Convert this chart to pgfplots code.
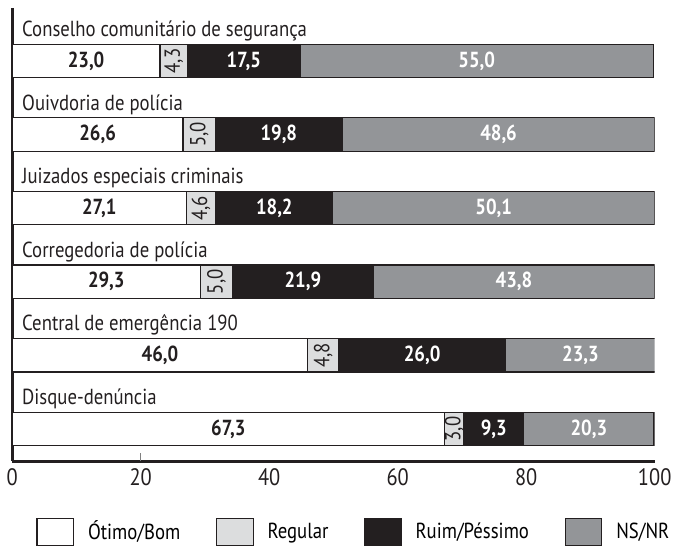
\documentclass[border=0pt]{standalone}
\usepackage{fontspec}
\setmainfont{PT Sans}[FakeStretch=0.86]
\usepackage{pgfplots}
\usepackage{pgfplotstable}
\pgfplotsset{compat=1.18}
\definecolor{lgray}{HTML}{DCDDDE}
\definecolor{mgray}{HTML}{939598}
\definecolor{dblack}{HTML}{231F20}
\tikzset{
  catlab/.style={anchor=west, font=\fontsize{11}{12}\selectfont, text=dblack, inner sep=0pt},
  vlab/.style={font=\bfseries\fontsize{11}{12}\selectfont, inner sep=0pt},
  rlab/.style={font=\fontsize{11}{12}\selectfont, inner sep=0pt, rotate=90, text=dblack},
}

\pgfplotstableread{
pos ot reg rp ns
0 23.0 4.3 17.5 55.0
1 26.6 5.0 19.8 48.6
2 27.1 4.6 18.2 50.1
3 29.3 5.0 21.9 43.8
4 46.0 4.8 26.0 23.3
5 67.3 3.0 9.3 20.3
}\bardata

\begin{document}
\begin{tikzpicture}
\begin{axis}[
  scale only axis,
  width=324.5pt, height=229pt,
  xbar stacked,
  reverse stacked plots=false,
  bar width=0.455,
  y dir=reverse,
  xmin=0, xmax=100,
  ymin=-0.72, ymax=5.44,
  axis lines*=left,
  axis line style={line width=1.5pt, draw=dblack},
  ytick=\empty,
  xtick={0,20,40,60,80,100},
  xticklabels={0,20,40,60,80,100},
  major tick length=0pt,
  extra x ticks={20},
  extra x tick labels={},
  extra x tick style={major tick length=4pt, tick align=inside},
  xticklabel style={font=\fontsize{12}{13}\selectfont, text=dblack},
  legend columns=4,
  legend image code/.code={\draw[#1, draw=dblack, line width=0.6pt] (0pt,-7pt) rectangle (18.5pt,7pt);},
  legend style={at={(0.037,-0.122)}, anchor=north west, draw=none, fill=none, inner sep=0pt,
    font=\fontsize{11}{12}\selectfont,
    /tikz/every odd column/.append style={column sep=5pt},
    /tikz/every even column/.append style={column sep=16pt}},
]
\addplot[fill=white, draw=dblack, line width=0.6pt] table[x=ot, y=pos] {\bardata};
\addlegendentry{Ótimo/Bom}
\addplot[fill=lgray, draw=dblack, line width=0.6pt] table[x=reg, y=pos] {\bardata};
\addlegendentry{Regular}
\addplot[fill=dblack, draw=dblack, line width=0.6pt] table[x=rp, y=pos] {\bardata};
\addlegendentry{Ruim/Péssimo}
\addplot[fill=mgray, draw=dblack, line width=0.6pt] table[x=ns, y=pos] {\bardata};
\addlegendentry{NS/NR}

\node[catlab] at (axis cs:1.5,-0.41) {Conselho comunitário de segurança};
\node[catlab] at (axis cs:1.5,0.59) {Ouivdoria de polícia};
\node[catlab] at (axis cs:1.5,1.59) {Juizados especiais criminais};
\node[catlab] at (axis cs:1.5,2.59) {Corregedoria de polícia};
\node[catlab] at (axis cs:1.5,3.59) {Central de emergência 190};
\node[catlab] at (axis cs:1.5,4.59) {Disque-denúncia};

\node[vlab, text=dblack] at (axis cs:11.5,0) {23,0};
\node[vlab, text=white] at (axis cs:36.05,0) {17,5};
\node[vlab, text=white] at (axis cs:72.3,0) {55,0};
\node[vlab, text=dblack] at (axis cs:13.3,1) {26,6};
\node[vlab, text=white] at (axis cs:41.5,1) {19,8};
\node[vlab, text=white] at (axis cs:75.7,1) {48,6};
\node[vlab, text=dblack] at (axis cs:13.55,2) {27,1};
\node[vlab, text=white] at (axis cs:40.8,2) {18,2};
\node[vlab, text=white] at (axis cs:74.95,2) {50,1};
\node[vlab, text=dblack] at (axis cs:14.65,3) {29,3};
\node[vlab, text=white] at (axis cs:45.25,3) {21,9};
\node[vlab, text=white] at (axis cs:78.1,3) {43,8};
\node[vlab, text=dblack] at (axis cs:23.0,4) {46,0};
\node[vlab, text=white] at (axis cs:63.8,4) {26,0};
\node[vlab, text=white] at (axis cs:88.45,4) {23,3};
\node[vlab, text=dblack] at (axis cs:33.65,5) {67,3};
\node[vlab, text=white] at (axis cs:74.95,5) {9,3};
\node[vlab, text=white] at (axis cs:89.75,5) {20,3};

\node[rlab] at (axis cs:25.15,0) {4,3};
\node[rlab] at (axis cs:29.1,1) {5,0};
\node[rlab] at (axis cs:29.4,2) {4,6};
\node[rlab] at (axis cs:31.8,3) {5,0};
\node[rlab] at (axis cs:48.4,4) {4,8};
\node[rlab] at (axis cs:68.8,5) {3,0};
\end{axis}
\path ([xshift=-6pt,yshift=4pt]current axis.north west);
\path ([xshift=8.5pt]current axis.south east);
\end{tikzpicture}
\end{document}
